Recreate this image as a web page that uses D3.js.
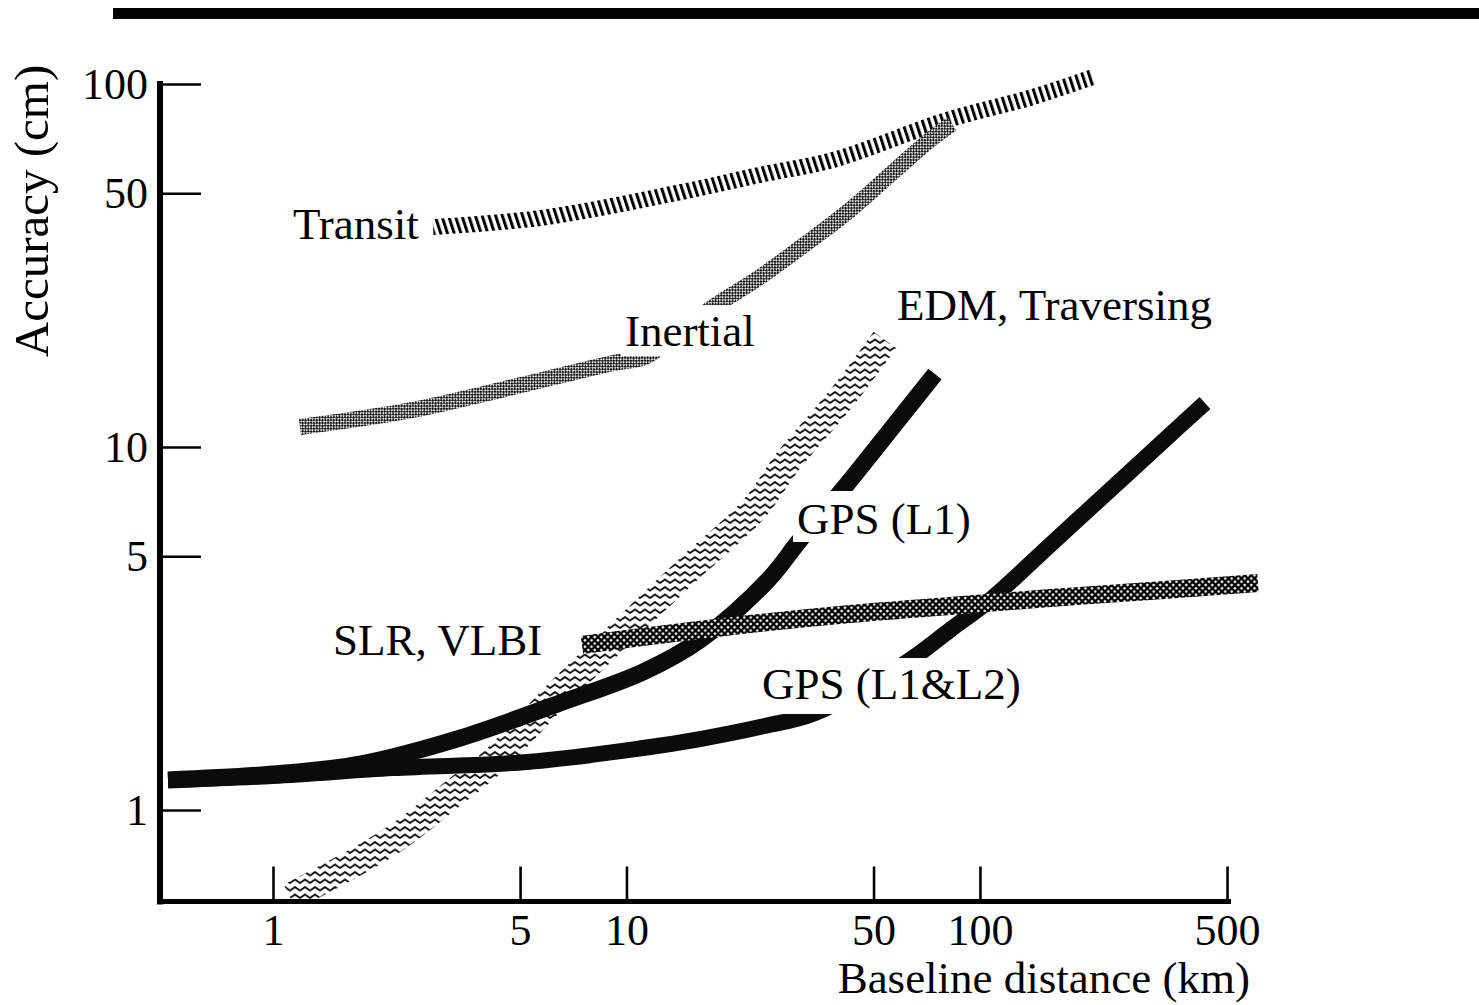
<!DOCTYPE html>
<html><head><meta charset="utf-8">
<script src="https://cdn.jsdelivr.net/npm/d3@7"></script>
<style>
body{margin:0;background:#fff}
svg text{font-family:"Liberation Serif","Times New Roman",serif;fill:#000}
</style>
</head><body>
<svg id="c" width="1479" height="1005"></svg>
<script>
// ---- data (km, cm) ----
const xTickValues = [1, 5, 10, 50, 100, 500];
const yTickValues = [1, 5, 10, 50, 100];

const transit  = [[2.836,40.37],[5.96,43.0],[13.9,50.1],[23.9,56.2],[38.4,61.75],[80.7,79.6],[141.2,92.1],[208.7,104.5]];
const inertial = [[1.192,11.35],[2.489,12.65],[4.776,14.63],[9.16,17.03],[11.28,17.7],[13.99,20.7],[17.57,24.3],[23.86,29.40],[30.96,35.33],[42.88,44.98],[59.37,59.45],[72.2,70.1],[83.3,77.6]];
const edm      = [[1.117,0.576],[2.185,0.827],[3.272,1.121],[4.246,1.373],[6.156,2.009],[10.57,3.337],[15.12,4.642],[22.80,6.706],[28.83,9.21],[40.18,13.48],[53.87,19.72]];
const gpsL1    = [[0.5046,1.210],[1.0,1.256],[1.762,1.339],[3.381,1.579],[6.484,1.971],[11.14,2.400],[16.14,2.940],[25.14,4.301],[30.96,5.544],[41.24,7.711],[59.37,12.02],[74.60,15.89]];
const gpsL1L2  = [[0.5046,1.210],[1.0,1.241],[2.185,1.305],[5.231,1.356],[11.14,1.482],[16.14,1.569],[23.86,1.693],[34.14,1.850],[62.16,2.557],[82.27,3.133],[106.7,3.788],[157.8,5.370],[233.2,7.612],[323.1,10.19],[433.1,13.22]];
const slrVlbi  = [[7.483,2.848],[11.65,3.016],[22.36,3.253],[42.88,3.467],[82.27,3.648],[157.8,3.837],[302.7,4.011],[611.6,4.220]];

const seriesNames = ["Transit","Inertial","EDM, Traversing","GPS (L1)","SLR, VLBI","GPS (L1&L2)"];
// label anchors in data space (km, cm)
const labelAnchors = [[1.139,37.41],[9.90,18.97],[58.24,22.38],[30.36,5.759],[1.478,2.673],[24.17,2.022]];

// ---- layout ----
const svg = d3.select("#c");
const x = d3.scaleLog().domain([0.479, 513.1]).range([160, 1231]);
const y = d3.scaleLog().domain([0.558, 100]).range([902, 84]);
const FONT = 45;

// top rule
svg.append("line").attr("x1",113).attr("x2",1479).attr("y1",13.5).attr("y2",13.5)
  .attr("stroke","#000").attr("stroke-width",11);

// ---- patterns ----
const defs = svg.append("defs");
const ph = defs.append("pattern").attr("id","hatch").attr("patternUnits","userSpaceOnUse")
  .attr("width",6.4).attr("height",20).attr("patternTransform","rotate(-18)");
ph.append("rect").attr("width",6.4).attr("height",20).attr("fill","#fff");
ph.append("rect").attr("width",3).attr("height",20).attr("fill","#000");

const pd = defs.append("pattern").attr("id","dither").attr("patternUnits","userSpaceOnUse")
  .attr("width",4).attr("height",4).attr("patternTransform","rotate(45)");
pd.append("rect").attr("width",4).attr("height",4).attr("fill","#fff");
pd.append("rect").attr("width",2.4).attr("height",2.4).attr("fill","#111");
pd.append("rect").attr("x",2).attr("y",2).attr("width",2.4).attr("height",2.4).attr("fill","#111");

const pz = defs.append("pattern").attr("id","zigzag").attr("patternUnits","userSpaceOnUse")
  .attr("width",10).attr("height",7.5);
pz.append("rect").attr("width",10).attr("height",7.5).attr("fill","#fff");
pz.append("path").attr("d","M-1,6.2 L5,2 L11,6.2").attr("fill","none").attr("stroke","#000").attr("stroke-width",1.9);

const pc = defs.append("pattern").attr("id","cross").attr("patternUnits","userSpaceOnUse")
  .attr("width",6.5).attr("height",6.5);
pc.append("rect").attr("width",6.5).attr("height",6.5).attr("fill","#fff");
pc.append("path").attr("d","M-1,-1L7.5,7.5M7.5,-1L-1,7.5").attr("stroke","#000").attr("stroke-width",2.3);

defs.append("clipPath").attr("id","plot").append("rect")
  .attr("x",163).attr("y",0).attr("width",1316).attr("height",899);

// ---- bands ----
const line = d3.line().x(d=>x(d[0])).y(d=>y(d[1])).curve(d3.curveCatmullRom.alpha(0.5));
const bands = [
  {data: transit,  stroke:"url(#hatch)",  w:16},
  {data: inertial, stroke:"url(#dither)", w:16},
  {data: edm,      stroke:"url(#zigzag)", w:28},
  {data: gpsL1L2,  stroke:"#0b0b0b",      w:16},
  {data: gpsL1,    stroke:"#0b0b0b",      w:17},
  {data: slrVlbi,  stroke:"url(#cross)",  w:18}
];
const gb = svg.append("g").attr("clip-path","url(#plot)");
gb.selectAll("path").data(bands).join("path")
  .attr("d",d=>line(d.data)).attr("fill","none")
  .attr("stroke",d=>d.stroke).attr("stroke-width",d=>d.w).attr("stroke-linecap","butt");

// ---- axes ----
const gx = svg.append("g").attr("transform","translate(0,901.5)")
  .call(d3.axisBottom(x).tickValues(xTickValues).tickFormat(d3.format("d")).tickSize(-35).tickPadding(12));
gx.select(".domain").remove();
gx.attr("font-size",44).attr("font-family","Liberation Serif, Times New Roman, serif");
gx.selectAll(".tick line").attr("stroke","#000").attr("stroke-width",2.6);
gx.selectAll(".tick text").attr("fill","#000");

const gy = svg.append("g").attr("transform","translate(160,0)")
  .call(d3.axisLeft(y).tickValues(yTickValues).tickFormat(d3.format("d")).tickSize(-41).tickPadding(12));
gy.select(".domain").remove();
gy.attr("font-size",44).attr("font-family","Liberation Serif, Times New Roman, serif");
gy.selectAll(".tick line").attr("stroke","#000").attr("stroke-width",2.6);
gy.selectAll(".tick text").attr("fill","#000");

svg.append("line").attr("x1",160).attr("x2",160).attr("y1",81).attr("y2",904.5).attr("stroke","#000").attr("stroke-width",6);
svg.append("line").attr("x1",157).attr("x2",1231).attr("y1",901.5).attr("y2",901.5).attr("stroke","#000").attr("stroke-width",5);

// ---- axis titles ----
svg.append("text").attr("x",1250).attr("y",993).attr("text-anchor","end")
  .attr("font-size",FONT).text("Baseline distance (km)");
svg.append("text").attr("transform","translate(48,211) rotate(-90)").attr("text-anchor","middle")
  .attr("font-size",49).text("Accuracy (cm)");

// ---- series labels ----
const maskPad = {"Inertial":[4,1,0], "GPS (L1)":[4,3,-2], "GPS (L1&L2)":[4,1,5]}; // [side, top, bottom]
seriesNames.forEach((name,i)=>{
  const g = svg.append("g");
  const t = g.append("text").attr("x",x(labelAnchors[i][0])).attr("y",y(labelAnchors[i][1]))
    .attr("font-size",FONT).text(name);
  const p = maskPad[name];
  if (p) {
    const b = t.node().getBBox();
    g.insert("rect","text").attr("x",b.x-p[0]).attr("y",b.y-p[1])
      .attr("width",b.width+2*p[0]).attr("height",b.height+p[1]+p[2]).attr("fill","#fff");
  }
});
</script>
</body></html>
